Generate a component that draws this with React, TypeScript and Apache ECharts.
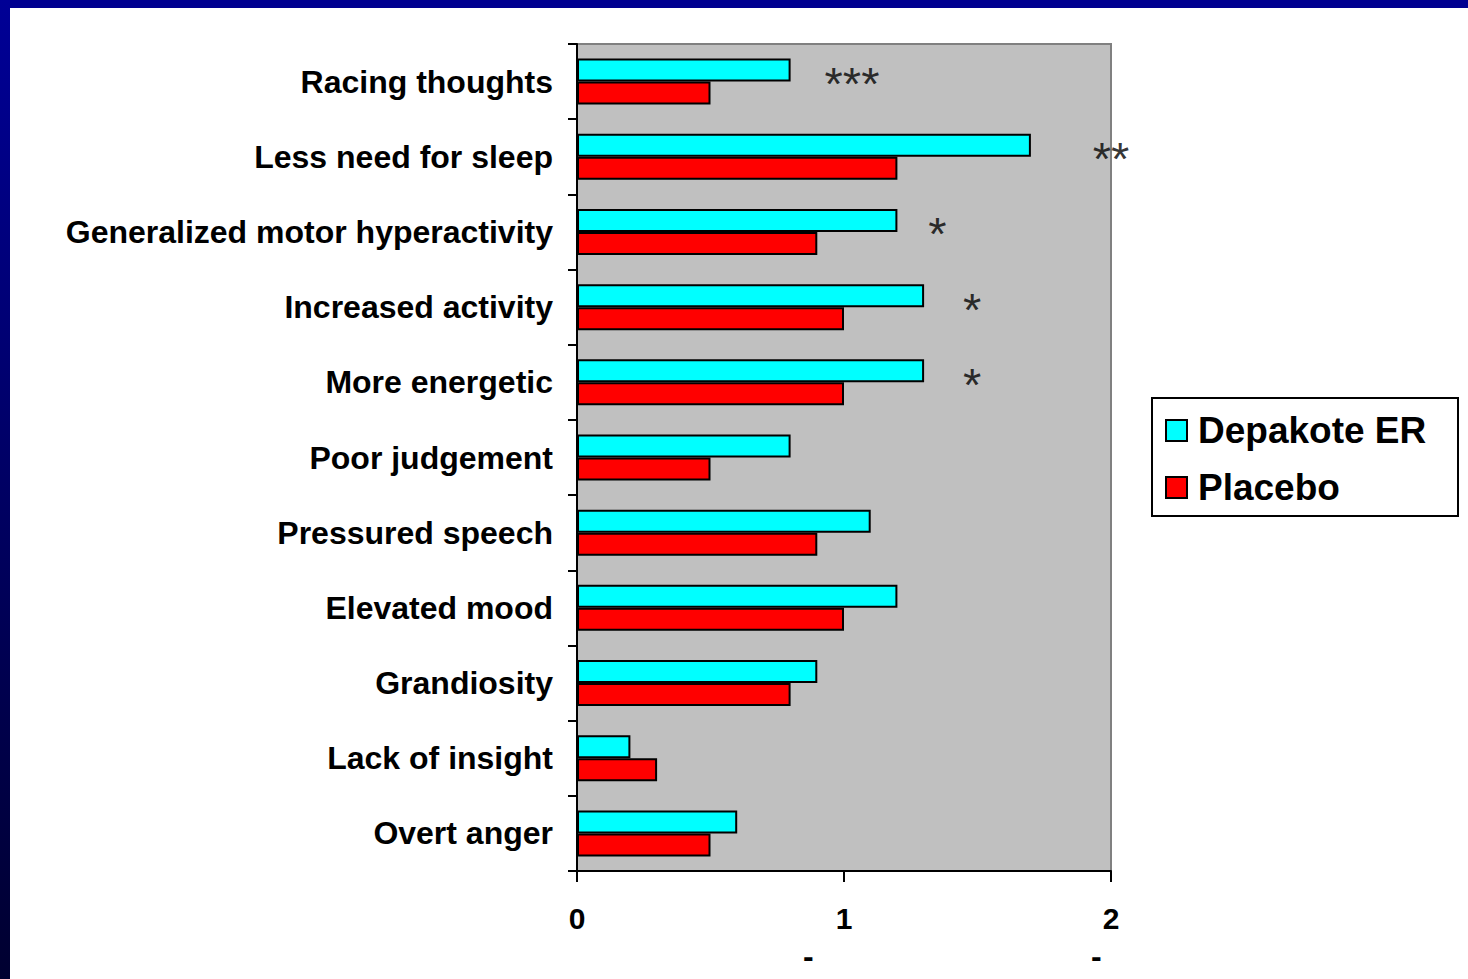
import React, { useEffect, useRef } from "react";
import * as echarts from "echarts";

const categories = [
  "Racing thoughts",
  "Less need for sleep",
  "Generalized motor hyperactivity",
  "Increased activity",
  "More energetic",
  "Poor judgement",
  "Pressured speech",
  "Elevated mood",
  "Grandiosity",
  "Lack of insight",
  "Overt anger",
];
const depakote = [0.8, 1.7, 1.2, 1.3, 1.3, 0.8, 1.1, 1.2, 0.9, 0.2, 0.6];
const placebo = [0.5, 1.2, 0.9, 1.0, 1.0, 0.5, 0.9, 1.0, 0.8, 0.3, 0.5];
const sigLabels = ["***", "**", "*", "*", "*"];
const sigX = [1.03, 2.0, 1.35, 1.48, 1.48];
const xMin = 0;
const xMax = 2;
const xInterval = 1;

const FONT = "Liberation Sans, Arial, Helvetica, sans-serif";

export default function App() {
  const ref = useRef<HTMLDivElement>(null);
  useEffect(() => {
    document.body.style.margin = "0";
    const chart = echarts.init(ref.current!, undefined, { renderer: "svg" });
    chart.setOption({
      animation: false,
      backgroundColor: "#ffffff",
      textStyle: { fontFamily: FONT },
      graphic: [
        { type: "rect", left: 0, top: 0, shape: { width: 1468, height: 8 }, style: { fill: "#000090" }, z: 0 },
        {
          type: "rect",
          left: 0,
          top: 0,
          shape: { width: 10, height: 979 },
          style: {
            fill: new echarts.graphic.LinearGradient(0, 0, 0, 1, [
              { offset: 0, color: "#000096" },
              { offset: 1, color: "#000030" },
            ]),
          },
          z: 0,
        },
        {
          type: "rect",
          left: 1151,
          top: 397,
          shape: { width: 306, height: 118 },
          style: { fill: "#ffffff", stroke: "#000000", lineWidth: 2 },
          z: 1,
        },
        {
          type: "text",
          left: 803,
          top: 940,
          style: { text: "-", fontSize: 32, fontWeight: "bold", fontFamily: FONT, fill: "#000" },
        },
        {
          type: "text",
          left: 1091,
          top: 940,
          style: { text: "-", fontSize: 32, fontWeight: "bold", fontFamily: FONT, fill: "#000" },
        },
      ],
      legend: {
        orient: "vertical",
        left: 1165,
        top: 412,
        padding: 0,
        itemWidth: 21,
        itemHeight: 21,
        itemGap: 20,
        icon: "rect",
        data: ["Depakote ER", "Placebo"],
        textStyle: { fontSize: 37, fontWeight: "bold", color: "#000", fontFamily: FONT, padding: [0, 0, 0, 6] },
        z: 5,
      },
      grid: {
        left: 577,
        top: 44,
        width: 534,
        height: 827,
        show: true,
        backgroundColor: "#C0C0C0",
        borderColor: "#808080",
        borderWidth: 2,
      },
      xAxis: {
        type: "value",
        min: xMin,
        max: xMax,
        interval: xInterval,
        splitLine: { show: false },
        axisLine: { show: true, lineStyle: { color: "#000", width: 2 } },
        axisTick: { show: true, length: 11, lineStyle: { color: "#000", width: 2 } },
        axisLabel: { fontSize: 30, fontWeight: "bold", color: "#000", margin: 32, fontFamily: FONT },
      },
      yAxis: {
        type: "category",
        inverse: true,
        data: categories,
        axisLine: { show: true, lineStyle: { color: "#000", width: 2 } },
        axisTick: { show: true, length: 9, alignWithLabel: false, lineStyle: { color: "#000", width: 2 } },
        axisLabel: { fontSize: 32, fontWeight: "bold", color: "#000", margin: 24, fontFamily: FONT },
      },
      series: [
        {
          name: "Depakote ER",
          type: "bar",
          data: depakote,
          barWidth: 23,
          barGap: "0%",
          itemStyle: { color: "#00FFFF", borderColor: "#000", borderWidth: 2 },
        },
        {
          name: "Placebo",
          type: "bar",
          data: placebo,
          barWidth: 23,
          barGap: "0%",
          itemStyle: { color: "#FF0000", borderColor: "#000", borderWidth: 2 },
        },
        {
          name: "sig",
          type: "scatter",
          symbolSize: 2,
          silent: true,
          clip: false,
          itemStyle: { color: "rgba(0,0,0,0)" },
          data: sigX.map((x, i) => ({ name: sigLabels[i], value: [x, categories[i]] })),
          label: {
            show: true,
            position: "inside",
            formatter: "{b}",
            offset: [0, 2],
            fontSize: 47,
            fontWeight: "normal",
            color: "#000000",
            textBorderWidth: 0,
            textBorderColor: "transparent",
            fontFamily: FONT,
          },
          z: 6,
        },
      ],
    });
    return () => chart.dispose();
  }, []);
  return <div ref={ref} style={{ position: "fixed", left: 0, top: 0, width: 1468, height: 979 }} />;
}
